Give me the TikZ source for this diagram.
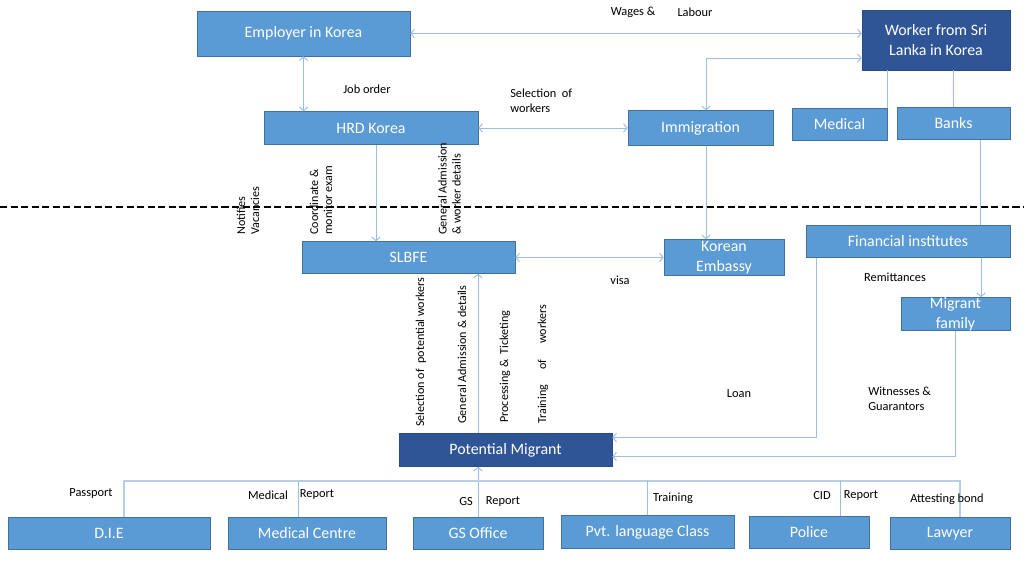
\documentclass[tikz,border=0pt]{standalone}
\usepackage{fontspec}
\setmainfont{Carlito}
\usetikzlibrary{positioning, arrows.meta, calc}
\usepackage{xcolor}
\definecolor{boxblue}{HTML}{5B9BD5}
\definecolor{boxedge}{HTML}{41719C}
\definecolor{darkblue}{HTML}{2F5597}
\definecolor{darkedge}{HTML}{2A4A85}
\definecolor{linkblue}{HTML}{9DBDE2}
\newcommand{\unitpx}{0.025cm}

\begin{document}
\begin{tikzpicture}[x=0.025cm, y=-0.025cm,
    box/.style={draw=boxedge, fill=boxblue, text=white, inner sep=0pt, align=center,
      font=\fontsize{11.3}{14}\selectfont},
    darkbox/.style={box, draw=darkedge, fill=darkblue},
    sz/.style 2 args={minimum width=#1*\unitpx, minimum height=#2*\unitpx},
    link/.style={linkblue, line width=0.7pt},
    lbl/.style={font=\fontsize{8.8}{10.7}\selectfont, inner sep=0pt},
    vlbl/.style={lbl, font=\fontsize{8.6}{10}\selectfont, rotate=90, anchor=west, align=left},
    >={Straight Barb[length=2.5pt, width=6pt]}]
  \useasboundingbox (0,0) rectangle (1024,576);

  % korea side
  \node[box, sz={213}{45}] (employer) at (303.5,33.5) {Employer in Korea};
  \node[darkbox, sz={148}{60}] (worker) at (936,40) {Worker from Sri\\Lanka in Korea};
  \node[box, sz={214}{33}] (hrd) at (371,128) {HRD Korea};
  \node[box, sz={145}{35}] (immig) at (700.5,128) {Immigration};
  \node[box, sz={95}{32}] (medical) at (839.5,124.5) {Medical};
  \node[box, sz={113}{32}] (banks) at (953.5,123.5) {Banks};

  % sri lanka side
  \node[box, sz={213}{32}] (slbfe) at (408.5,257.5) {SLBFE};
  \node[box, sz={120}{36}] (embassy) at (724,257.5) {Korean\\Embassy};
  \node[box, sz={204}{32}] (finance) at (908,241.5) {Financial institutes};
  \node[box, sz={109}{33}] (family) at (955.5,314) {Migrant\\family};
  \node[darkbox, sz={213}{33}] (migrant) at (505.5,450) {Potential Migrant};

  \node[box, sz={202}{32}] (die) at (109,533.5) {D.I.E};
  \node[box, sz={158}{32}] (medcentre) at (307,533.5) {Medical Centre};
  \node[box, sz={130}{32}] (gsoffice) at (478,533.5) {GS Office};
  \node[box, sz={173}{33}] (language) at (647.5,532) {Pvt. language Class};
  \node[box, sz={120}{32}] (police) at (809,532.5) {Police};
  \node[box, sz={120}{32}] (lawyer) at (950,533.5) {Lawyer};

  % links
  \draw[link, <->] (employer.east) -- (worker.west |- employer.east);
  \draw[link, <->] (employer.south) -- (employer.south |- hrd.north);
  \draw[link, <->] (hrd.east) -- (immig.west);
  \draw[link, <->] ($(immig.north)+(5.5,0)$) |- ($(worker.west)+(0,18)$);
  \draw[link] (medical.north east) -- (medical.north east |- worker.south);
  \draw[link] (banks.north) -- (banks.north |- worker.south);
  \draw[link] ($(banks.south)+(27,0)$) coordinate (bk) -- (bk |- finance.north);
  \draw[link, ->] ($(finance.south)+(73,0)$) coordinate (fs) -- (fs |- family.north);
  \draw[link, ->] ($(finance.south west)+(11,0)$) |- ($(migrant.east)+(0,-12.5)$);
  \draw[link, ->] (family.south) |- ($(migrant.east)+(0,6.5)$);
  \draw[link, ->] ($(hrd.south)+(5,0)$) coordinate (hs) -- (hs |- slbfe.north);
  \draw[link, ->] ($(immig.south)+(5.5,0)$) coordinate (is) -- (is |- embassy.north);
  \draw[link, <->] (slbfe.east) -- (embassy.west);
  \draw[link, ->] (gsoffice.north |- migrant.north) -- (gsoffice.north |- slbfe.south);
  \draw[link, ->] (gsoffice.north) -- (gsoffice.north |- migrant.south);

  \coordinate (bus) at (0,481);
  \path ($(die.north)+(15,0)$) coordinate (d1) ($(lawyer.north)+(10,0)$) coordinate (l1);
  \draw[link, linkblue!75, line width=1pt] (d1) |- (l1 |- bus) -- (l1);
  \draw[link] ($(medcentre.north)+(-9,0)$) coordinate (m1) -- (m1 |- bus);
  \draw[link] (language.north) -- (language.north |- bus);
  \draw[link] ($(police.north)+(31,0)$) coordinate (p1) -- (p1 |- bus);

  % labels
  \node[lbl] (wages) at (633,12) {Wages \&};
  \node[lbl] (labour) at (695,12) {Labour};
  \node[lbl] (joborder) at (367,89) {Job order};
  \node[lbl, anchor=west, align=left] (selection) at (510,100.5) {Selection\ \ of\\workers};
  \node[vlbl] (notifies) at (248,235) {Notifies\\Vacancies};
  \node[vlbl] (coord) at (321,235) {Coordinate \&\\monitor exam};
  \node[vlbl] (genadm) at (449.5,235) {General Admission\\\& worker details};
  \node[vlbl] (selpot) at (421,427) {Selection of\ \ potential workers};
  \node[vlbl] (gendet) at (462,424) {General Admission \& details};
  \node[vlbl] (proc) at (505,423) {Processing \&\ \ Ticketing};
  \node[vlbl] (train) at (543,424) {Training\hspace{11pt}of\hspace{11pt}workers};
  \node[lbl] (visa) at (620,280) {visa};
  \node[lbl] (remit) at (895,277) {Remittances};
  \node[lbl] (loan) at (739,394) {Loan};
  \node[lbl, anchor=west, align=left] (witness) at (868,398.5) {Witnesses \&\\Guarantors};
  \node[lbl] (passport) at (91,494) {Passport};
  \node[lbl] (medrep) at (268,495) {Medical};
  \node[lbl] (medrep2) at (317,495) {Report};
  \node[lbl] (gsrep) at (466,502) {GS};
  \node[lbl] (gsrep2) at (503,502) {Report};
  \node[lbl] (training) at (673,498) {Training};
  \node[lbl] (cid) at (822,496) {CID};
  \node[lbl] (cidrep) at (861,496) {Report};
  \node[lbl] (bond) at (947,499) {Attesting bond};

  \draw[black, line width=1.8pt, dash pattern=on 5pt off 2.5pt] (0,207) -- (1024,207);
\end{tikzpicture}
\end{document}
